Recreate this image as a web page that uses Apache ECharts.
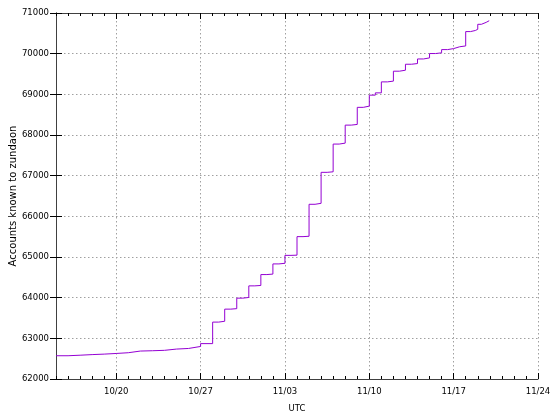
<!DOCTYPE html>
<html>
<head>
<meta charset="utf-8">
<script src="https://cdn.jsdelivr.net/npm/echarts@6/dist/echarts.min.js"></script>
<style>
html,body{margin:0;padding:0;background:#fff;}
#chart{width:554px;height:416px;}
</style>
</head>
<body>
<div id="chart"></div>
<script>
// Days elapsed since 10/15 00:00 UTC
const sampleDays = [
  0, 1, 2, 3, 4, 5, 6, 7, 8, 9, 10, 11, 12,
  13, 13.5, 14, 14.5, 15, 15.5, 16, 16.5, 17, 17.5, 18, 18.5,
  19, 19.5, 20, 20.5, 21, 21.5, 22, 22.5, 23, 23.5, 24, 24.5,
  25, 25.5, 26, 26.5, 27, 27.5, 28, 28.5, 29, 29.5, 30, 30.5,
  31, 31.5, 32, 32.5, 33, 33.5, 34, 34.4, 34.8, 35, 35.3, 35.7, 35.95
];
const accounts = [
  62572, 62585, 62600, 62612, 62628, 62646, 62687, 62695, 62705, 62736, 62751, 62800, 62870,
  63399, 63420, 63718, 63730, 63988, 64005, 64290, 64300, 64568, 64580, 64830, 64845,
  65040, 65045, 65501, 65510, 66296, 66320, 67082, 67095, 67777, 67800, 68243, 68260,
  68680, 68710, 68980, 69036, 69306, 69325, 69569, 69593, 69740, 69757, 69870, 69896,
  70003, 70020, 70100, 70125, 70170, 70190, 70543, 70570, 70600, 70722, 70770, 70810, 70820
];
const xTickDays = [5, 12, 19, 26, 33, 40];
const xTickLabels = ['10/20', '10/27', '11/03', '11/10', '11/17', '11/24'];
const xMinDay = 0, xMaxDay = 40;
const yMin = 62000, yMax = 71000, yStep = 1000;

const FONT = 'DejaVu Sans';
const FS = 8.5;
const frameColor = '#404040';
const gridLine = { show: true, lineStyle: { color: '#a0a0a0', type: [1.5, 2.5], width: 1 } };

const chart = echarts.init(document.getElementById('chart'), null, { renderer: 'canvas' });
const data = sampleDays.map((d, i) => [d, accounts[i]]);

function baseX(extra) {
  return Object.assign({
    type: 'value', min: xMinDay, max: xMaxDay,
    axisLine: { show: false },
    axisTick: { show: false },
    axisLabel: { show: false },
    splitLine: { show: false }
  }, extra);
}

const option = {
  animation: false,
  backgroundColor: '#ffffff',
  grid: { left: 56, right: 16, top: 13, bottom: 37, containLabel: false, outerBoundsMode: 'none' },
  xAxis: [
    baseX({
      position: 'bottom',
      axisLine: { show: true, lineStyle: { color: frameColor, width: 1 } },
      axisTick: { show: true, inside: true, length: 6, customValues: xTickDays, lineStyle: { color: '#000' } },
      axisLabel: {
        show: true, customValues: xTickDays, margin: 8,
        formatter: v => xTickLabels[xTickDays.indexOf(Math.round(v))] || '',
        fontFamily: FONT, fontSize: FS, color: '#000'
      },
      splitLine: gridLine,
      name: 'UTC', nameLocation: 'middle', nameGap: 25, nameMoveOverlap: false,
      nameTextStyle: { fontFamily: FONT, fontSize: FS, color: '#000' }
    }),
    baseX({
      position: 'bottom', interval: 1,
      axisTick: { show: true, inside: true, length: 3, lineStyle: { color: '#000' } }
    }),
    baseX({
      position: 'top',
      axisLine: { show: true, lineStyle: { color: frameColor, width: 1 } },
      axisTick: { show: true, inside: true, length: 6, customValues: xTickDays, lineStyle: { color: '#000' } }
    }),
    baseX({
      position: 'top', interval: 1,
      axisTick: { show: true, inside: true, length: 3, lineStyle: { color: '#000' } }
    })
  ],
  yAxis: [
    {
      type: 'value', min: yMin, max: yMax, interval: yStep, position: 'left',
      axisLine: { show: true, lineStyle: { color: frameColor, width: 1 } },
      axisTick: { show: true, inside: true, length: 6, lineStyle: { color: '#000' } },
      axisLabel: { fontFamily: FONT, fontSize: FS, color: '#000', margin: 7, formatter: v => String(v) },
      splitLine: gridLine,
      name: 'Accounts known to zundaon', nameLocation: 'middle', nameGap: 43, nameMoveOverlap: false,
      nameTextStyle: { fontFamily: FONT, fontSize: 10, color: '#000', verticalAlign: 'middle' }
    },
    {
      type: 'value', min: yMin, max: yMax, interval: yStep, position: 'right',
      axisLine: { show: true, lineStyle: { color: frameColor, width: 1 } },
      axisTick: { show: true, inside: true, length: 6, lineStyle: { color: '#000' } },
      axisLabel: { show: false },
      splitLine: { show: false }
    }
  ],
  series: [{
    type: 'line',
    xAxisIndex: 0, yAxisIndex: 0,
    step: 'end',
    data: data,
    showSymbol: false,
    symbol: 'none',
    lineStyle: { color: '#9400d3', width: 1 },
    itemStyle: { color: '#9400d3' }
  }]
};
chart.setOption(option);
</script>
</body>
</html>
